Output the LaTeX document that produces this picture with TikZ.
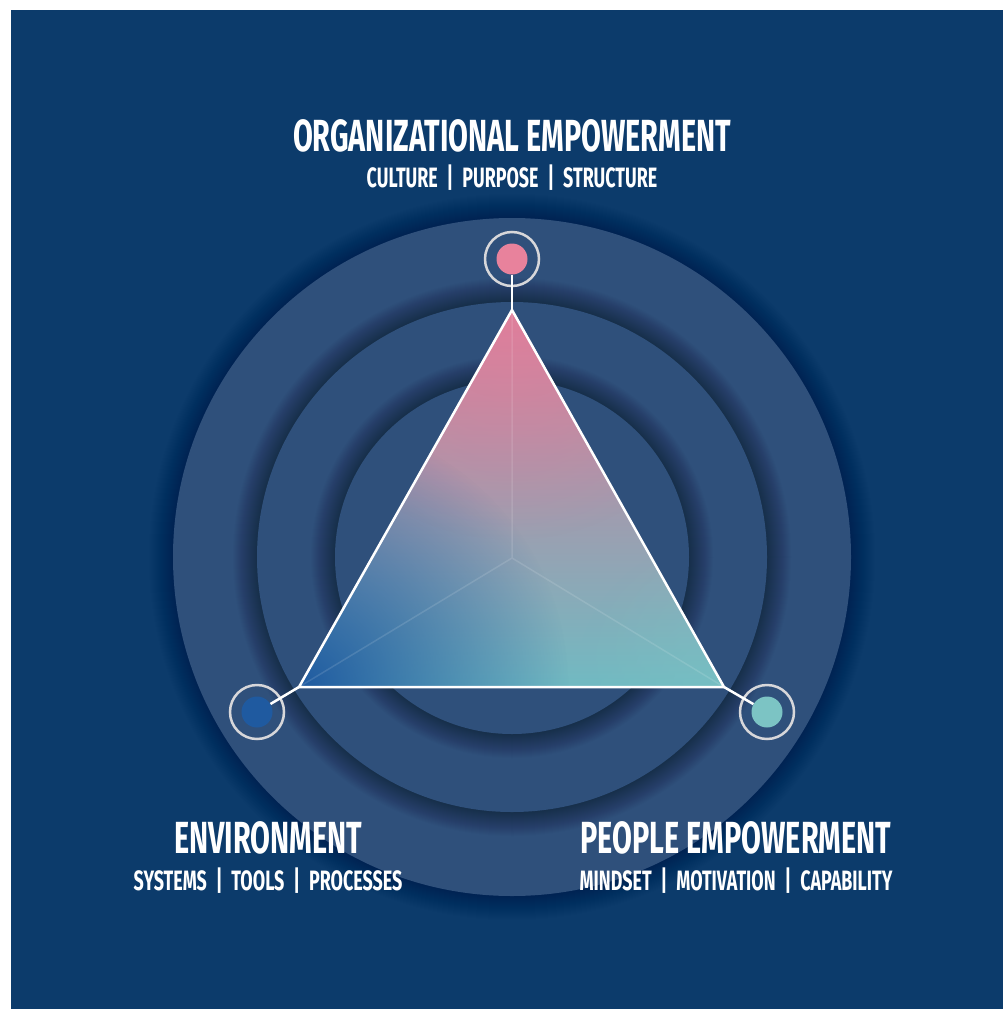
\documentclass[tikz,border=0pt]{standalone}
\usepackage{fontspec}
\usepackage{tikz}
\usetikzlibrary{fadings}
\usepackage{xcolor}

\newfontfamily\headfont[FakeStretch=0.64]{Fira Sans}

\definecolor{bgblue}{RGB}{12,59,107}
\definecolor{ringblue}{RGB}{47,80,123}
\definecolor{orgpink}{RGB}{232,130,156}
\definecolor{envblue}{RGB}{31,90,160}
\definecolor{pplteal}{RGB}{124,196,196}
\definecolor{ringgray}{RGB}{215,215,218}

\tikzfading[name=corner fade, inner color=transparent!0, outer color=transparent!100]

\begin{document}
\begin{tikzpicture}[x=1pt,y=-1pt,
  dot/.style={circle,inner sep=0pt,minimum size=31pt},
  title/.style={text=white,font=\headfont\bfseries\fontsize{45}{45}\selectfont},
  subtitle/.style={text=white,font=\headfont\bfseries\fontsize{28}{28}\selectfont}]

  \useasboundingbox (0,0) rectangle (1003,1009);
  \fill[white] (0,0) rectangle (1003,1009);
  \fill[bgblue] (11,10) rectangle (1003,1009);

  % rings with soft shadows
  \coordinate (M) at (512,557);
  \foreach \r/\s in {339/0.009,255/0.014,177/0.014} {
    \foreach \k in {1,...,24}
      \fill[black,opacity=\s] (M) circle ({(\r+\k)*1pt});
    \fill[ringblue] (M) circle (\r pt);
  }

  \coordinate (apex) at (512,310);
  \coordinate (left) at (299,687);
  \coordinate (right) at (724,687);

  % gradient triangle
  \shade[top color={rgb,255:red,214;green,122;blue,153},
         middle color={rgb,255:red,166;green,152;blue,174},
         bottom color={rgb,255:red,112;green,186;blue,194}]
    (apex) -- (left) -- (right) -- cycle;
  \begin{scope}
    \clip (apex) -- (left) -- (right) -- cycle;
    \fill[orgpink,path fading=corner fade,opacity=0.55] (apex) circle (230pt);
    \fill[envblue,path fading=corner fade] (left) circle (270pt);
    \fill[pplteal,path fading=corner fade,opacity=0.5] (right) circle (150pt);
    \draw[white,opacity=0.12,line width=1.5pt] (apex) -- (512,558) (left) -- (512,558) -- (right);
  \end{scope}
  \draw[white,line width=2.5pt,line join=miter] (apex) -- (left) -- (right) -- cycle;

  % corner markers
  \node[dot,fill=orgpink] (org) at (512,259) {};
  \node[dot,fill=envblue] (env) at (257,712) {};
  \node[dot,fill=pplteal] (ppl) at (767,712) {};
  \foreach \n in {org,env,ppl}
    \draw[ringgray,line width=2.5pt] (\n) circle (27pt);
  \draw[white,line width=2.5pt] (org) -- (apex);
  \draw[white,line width=2.5pt] (env) -- (left);
  \draw[white,line width=2.5pt] (ppl) -- (right);

  % labels
  \node[title] (orgtitle) at (512,136) {ORGANIZATIONAL EMPOWERMENT};
  \node[subtitle] (orgsub) at (512,178) {CULTURE \,|\, PURPOSE \,|\, STRUCTURE};
  \node[title] (envtitle) at (268,838) {ENVIRONMENT};
  \node[subtitle] (envsub) at (268,881) {SYSTEMS \,|\, TOOLS \,|\, PROCESSES};
  \node[title] (ppltitle) at (736,838) {PEOPLE EMPOWERMENT};
  \node[subtitle] (pplsub) at (736,881) {MINDSET \,|\, MOTIVATION \,|\, CAPABILITY};
\end{tikzpicture}
\end{document}
